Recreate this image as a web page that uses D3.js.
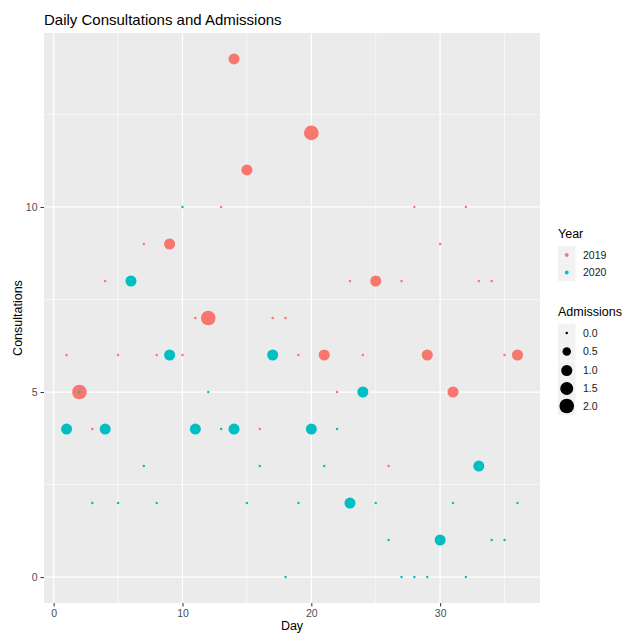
<!DOCTYPE html>
<html>
<head>
<meta charset="utf-8">
<script src="https://cdn.jsdelivr.net/npm/d3@7"></script>
<style>
  html, body { margin: 0; padding: 0; background: #fff; }
  svg text { font-family: "Liberation Sans", Arial, sans-serif; }
</style>
</head>
<body>
<svg id="chart" width="629" height="634"></svg>
<script>
// ---- data ----
const years = ["2019", "2020"];
const yearColors = ["#F8766D", "#00BFC4"];

// 2019: day, consultations, admissions
const days2019 =          [14, 20, 15, 13, 28, 32, 7, 9, 30, 4, 23, 25, 27, 33, 34, 11, 12, 17, 18, 1, 5, 8, 10, 19, 21, 24, 29, 35, 36, 2, 22, 31, 3, 16, 26, 6];
const consultations2019 = [14, 12, 11, 10, 10, 10, 9, 9, 9, 8, 8, 8, 8, 8, 8, 7, 7, 7, 7, 6, 6, 6, 6, 6, 6, 6, 6, 6, 6, 5, 5, 5, 4, 4, 3, 8];
const admissions2019 =    [1, 2, 1, 0, 0, 0, 0, 1, 0, 0, 0, 1, 0, 0, 0, 0, 2, 0, 0, 0, 0, 0, 0, 0, 1, 0, 1, 0, 1, 2, 0, 1, 0, 0, 0, 0];

// 2020
const days2020 =          [10, 6, 9, 17, 12, 24, 2, 1, 4, 11, 13, 14, 20, 22, 7, 16, 21, 33, 3, 5, 8, 15, 19, 23, 25, 31, 36, 26, 30, 34, 35, 18, 27, 28, 29, 32];
const consultations2020 = [10, 8, 6, 6, 5, 5, 5, 4, 4, 4, 4, 4, 4, 4, 3, 3, 3, 3, 2, 2, 2, 2, 2, 2, 2, 2, 2, 1, 1, 1, 1, 0, 0, 0, 0, 0];
const admissions2020 =    [0, 1, 1, 1, 0, 1, 0, 1, 1, 1, 0, 1, 1, 0, 0, 0, 0, 1, 0, 0, 0, 0, 0, 1, 0, 0, 0, 0, 1, 0, 0, 0, 0, 0, 0, 0];

const xTicks = [0, 10, 20, 30];
const yTicks = [0, 5, 10];
const sizeBreaks = [0, 0.5, 1, 1.5, 2];

// ---- build table ----
const rows = [];
days2019.forEach((d, i) => rows.push({year: "2019", day: d, cons: consultations2019[i], adm: admissions2019[i]}));
days2020.forEach((d, i) => rows.push({year: "2020", day: d, cons: consultations2020[i], adm: admissions2020[i]}));

// ---- layout ----
const svg = d3.select("#chart");
const P = {left: 44, right: 540, top: 33, bottom: 603};

const xExt = d3.extent(rows, r => r.day);
const yExt = [0, d3.max(rows, r => r.cons)];
const xPad = (xExt[1] - xExt[0]) * 0.05, yPad = (yExt[1] - yExt[0]) * 0.05;
const x = d3.scaleLinear().domain([xExt[0] - xPad, xExt[1] + xPad]).range([P.left, P.right]);
const y = d3.scaleLinear().domain([yExt[0] - yPad, yExt[1] + yPad]).range([P.bottom, P.top]);
const color = d3.scaleOrdinal().domain(years).range(yearColors);
// ggplot area palette: size range [1,6]
const sizeScale = d3.scaleSqrt().domain([0, 2]).range([1, 6]);
const rad = v => sizeScale(v) * 1.22;

// panel
svg.append("rect").attr("x", P.left).attr("y", P.top)
  .attr("width", P.right - P.left).attr("height", P.bottom - P.top).attr("fill", "#EBEBEB");

const grid = svg.append("g");
const xMinor = [5, 15, 25, 35];
const yMinor = [2.5, 7.5, 12.5];
xMinor.forEach(v => grid.append("line").attr("x1", x(v)).attr("x2", x(v)).attr("y1", P.top).attr("y2", P.bottom).attr("stroke", "#fff").attr("stroke-width", 0.6));
yMinor.forEach(v => grid.append("line").attr("y1", y(v)).attr("y2", y(v)).attr("x1", P.left).attr("x2", P.right).attr("stroke", "#fff").attr("stroke-width", 0.6));
xTicks.forEach(v => grid.append("line").attr("x1", x(v)).attr("x2", x(v)).attr("y1", P.top).attr("y2", P.bottom).attr("stroke", "#fff").attr("stroke-width", 1.3));
yTicks.forEach(v => grid.append("line").attr("y1", y(v)).attr("y2", y(v)).attr("x1", P.left).attr("x2", P.right).attr("stroke", "#fff").attr("stroke-width", 1.3));

// axes
const xAxis = svg.append("g").attr("transform", `translate(0,${P.bottom})`)
  .call(d3.axisBottom(x).tickValues(xTicks).tickSize(3.5).tickPadding(3).tickFormat(d3.format("d")));
const yAxis = svg.append("g").attr("transform", `translate(${P.left},0)`)
  .call(d3.axisLeft(y).tickValues(yTicks).tickSize(3.5).tickPadding(3).tickFormat(d3.format("d")));
[xAxis, yAxis].forEach(a => {
  a.select(".domain").remove();
  a.selectAll(".tick line").attr("stroke", "#333").attr("stroke-width", 1);
  a.selectAll(".tick text").attr("fill", "#4D4D4D").style("font-size", "10.5px")
    .style("font-family", "'Liberation Sans', Arial, sans-serif");
});

// points
svg.append("g").selectAll("circle").data(rows).join("circle")
  .attr("cx", d => x(d.day)).attr("cy", d => y(d.cons))
  .attr("r", d => rad(d.adm)).attr("fill", d => color(d.year));

// titles
svg.append("text").attr("x", 44).attr("y", 25).attr("font-size", 15).attr("fill", "#000")
  .text("Daily Consultations and Admissions");
svg.append("text").attr("transform", `translate(22,${(P.top + P.bottom) / 2}) rotate(-90)`)
  .attr("text-anchor", "middle").attr("font-size", 12.5).attr("fill", "#000").text("Consultations");
svg.append("text").attr("x", (P.left + P.right) / 2).attr("y", 629.5)
  .attr("text-anchor", "middle").attr("font-size", 12.5).attr("fill", "#000").text("Day");

// legend: Year
const lg = svg.append("g");
lg.append("text").attr("x", 558).attr("y", 237.5).attr("font-size", 12.5).text("Year");
years.forEach((yr, i) => {
  const cy = 255 + i * 17.5;
  lg.append("rect").attr("x", 558).attr("y", cy - 8.75).attr("width", 17.5).attr("height", 17.5).attr("fill", "#F2F2F2");
  lg.append("circle").attr("cx", 566.75).attr("cy", cy).attr("r", 1.9).attr("fill", color(yr));
  lg.append("text").attr("x", 583).attr("y", cy + 3.8).attr("font-size", 10.5).attr("fill", "#1a1a1a").text(yr);
});

// legend: Admissions
lg.append("text").attr("x", 558).attr("y", 315.5).attr("font-size", 12.5).text("Admissions");
const sizeCenters = [333, 351.5, 370.5, 388.5, 406];
sizeBreaks.forEach((v, i) => {
  const cy = sizeCenters[i];
  lg.append("rect").attr("x", 558).attr("y", cy - 9.2).attr("width", 17.5).attr("height", 18.4).attr("fill", "#F2F2F2");
  lg.append("circle").attr("cx", 566.75).attr("cy", cy).attr("r", rad(v)).attr("fill", "#000");
  lg.append("text").attr("x", 583).attr("y", cy + 3.8).attr("font-size", 10.5).attr("fill", "#1a1a1a").text(d3.format(".1f")(v));
});
</script>
</body>
</html>
